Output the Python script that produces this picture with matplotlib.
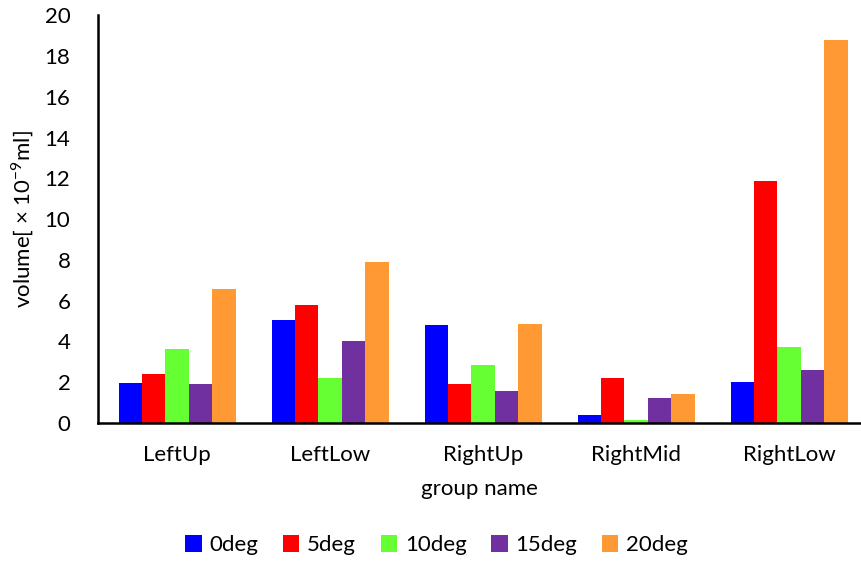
import numpy as np
import matplotlib.pyplot as plt

groups = ['LeftUp', 'LeftLow', 'RightUp', 'RightMid', 'RightLow']
series = ['0deg', '5deg', '10deg', '15deg', '20deg']
deg0 = [1.96, 5.03, 4.80, 0.38, 1.99]
deg5 = [2.39, 5.77, 1.90, 2.20, 11.89]
deg10 = [3.62, 2.20, 2.84, 0.16, 3.71]
deg15 = [1.90, 4.02, 1.58, 1.21, 2.61]
deg20 = [6.57, 7.90, 4.87, 1.44, 18.79]
colors = ['#0000FF', '#FF0000', '#66FF33', '#7030A0', '#FF9933']

plt.rcParams['font.family'] = ['Lato', 'DejaVu Sans']
fs = 16

fig = plt.figure(figsize=(8.61, 5.64), dpi=100)
ax = fig.add_axes([0.114, 0.25, 0.885, 0.723])

x = np.arange(len(groups))
w = 0.153
for i, (name, vals) in enumerate(zip(series, [deg0, deg5, deg10, deg15, deg20])):
    ax.bar(x + (i - 2) * w, vals, w, color=colors[i], label=name)

ax.set_xlim(-0.516, 4.464)
ax.set_ylim(0, 20)
ax.set_yticks(range(0, 21, 2))
ax.set_xticks(x)
ax.set_xticklabels(groups)
ax.tick_params(axis='both', length=0, labelsize=fs)
ax.tick_params(axis='y', pad=20)
ax.tick_params(axis='x', pad=16)
for s in ['top', 'right']:
    ax.spines[s].set_visible(False)
for s in ['left', 'bottom']:
    ax.spines[s].set_linewidth(1.8)
ax.set_xlabel('group name', fontsize=fs, labelpad=10)
ax.set_ylabel('volume[ × 10$^{\\mathregular{-9}}$ml]', fontsize=fs, labelpad=6)

ax.legend(loc='center', bbox_to_anchor=(0.444, -0.30), ncol=5, frameon=False,
          fontsize=fs, handlelength=0.75, handleheight=0.75, handletextpad=0.35,
          columnspacing=1.1)

fig.savefig('out.png', dpi=100)
